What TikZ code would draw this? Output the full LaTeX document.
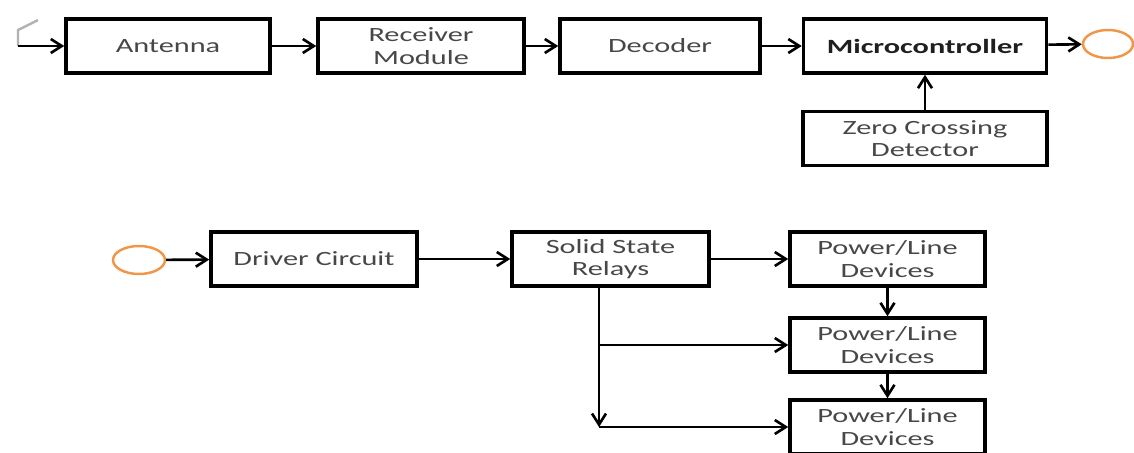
\documentclass[tikz,border=0pt]{standalone}
\usepackage{fontspec}
\setmainfont{Carlito}[FakeStretch=1.5]
\usetikzlibrary{arrows.meta,shapes.geometric}
\colorlet{txg}{black!72}
\colorlet{gax}{black!30}
\definecolor{orx}{RGB}{240,150,70}
\tikzset{
    blk/.style={draw,line width=2pt,inner sep=0pt,text=txg,align=center,
        font=\fontsize{11.5}{12.8}\selectfont,minimum height=10.8mm},
    arr/.style={line width=1.5pt,-{Straight Barb[length=2.2mm,width=2.8mm,line width=1.5pt]}},
    port/.style={ellipse,draw=orx,line width=1.4pt,inner sep=0pt,minimum height=5.6mm}
}
\begin{document}
\begin{tikzpicture}[x=0.2mm,y=-0.2mm]
        \useasboundingbox (0,0) rectangle (1134,452);
        % receiving side
        \node [blk,minimum width=40.8mm] (ant) at (168,46) {Antenna};
        \node [blk,minimum width=41.2mm] (rec) at (421,46) {Receiver\\Module};
        \node [blk,minimum width=40mm] (dec) at (660,46) {Decoder};
        \node [blk,minimum width=48.6mm,text=black!88,font=\fontsize{11.5}{12.8}\selectfont\bfseries] (mcu) at (925,46) {Microcontroller};
        \node [blk,minimum width=48.8mm] (zcd) at (925,138.5) {Zero Crossing\\Detector};
        \node [port,minimum width=10mm] (out) at (1108,44) {};
        \draw [gax,line width=1.4pt] (38,20) -- (18,30) -- (18,46);
        \coordinate (feed) at (18,46);
        \draw [arr] (feed) -- (ant);
        \draw [arr] (ant) -- (rec);
        \draw [arr] (rec) -- (dec);
        \draw [arr] (dec) -- (mcu);
        \draw [arr] (mcu) -- (out);
        \draw [arr] (zcd) -- (mcu);
        % switching side
        \node [port,minimum width=10.4mm] (in) at (139,260) {};
        \node [blk,minimum width=41.2mm] (drv) at (314,259) {Driver Circuit};
        \node [blk,minimum width=39.4mm] (ssr) at (610.5,259) {Solid State\\Relays};
        \foreach \i/\y in {1/259,2/345,3/427} {
            \node [blk,minimum width=39mm] (pl\i) at (887.5,\y) {Power/Line\\Devices};
        }
        \draw [arr] (in) -- (drv);
        \draw [arr] (drv) -- (ssr);
        \draw [arr] (ssr) -- (pl1);
        \foreach \a/\b in {1/2,2/3} {
            \draw [arr] (pl\a) -- (pl\b);
        }
        \coordinate (bend) at (599,427);
        \draw [arr] (ssr.south -| bend) -- (bend);
        \draw [arr] (bend |- pl2) -- (pl2);
        \draw [arr] (bend) -- (pl3);
    \end{tikzpicture}
\end{document}
